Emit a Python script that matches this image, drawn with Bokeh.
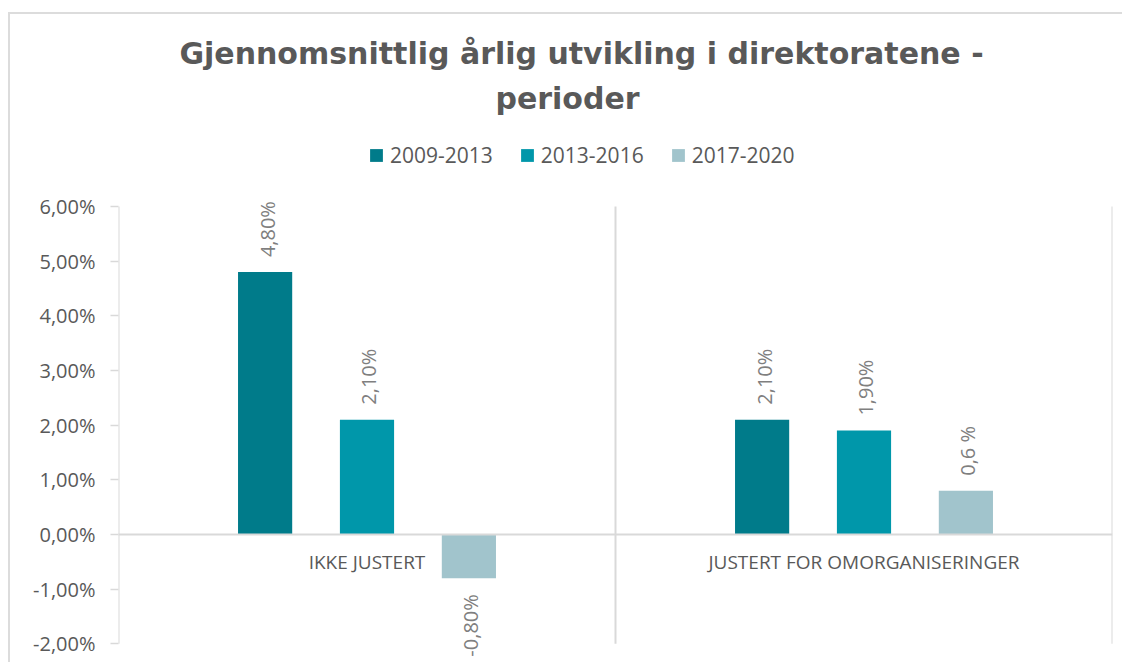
from bokeh.plotting import figure
from bokeh.models import (ColumnDataSource, FactorRange, Range1d, Span, LabelSet,
                          Legend, LegendItem, Label, FixedTicker)
from bokeh.transform import dodge
from bokeh.core.properties import value
from bokeh.embed import file_html
from bokeh.resources import INLINE

# ---------------- data ----------------
title_line1 = "Gjennomsnittlig årlig utvikling i direktoratene -"
title_line2 = "perioder"
categories = ["IKKE JUSTERT", "JUSTERT FOR OMORGANISERINGER"]
series_names = ["2009-2013", "2013-2016", "2017-2020"]
values_2009_2013 = [4.8, 2.1]
values_2013_2016 = [2.1, 1.9]
values_2017_2020 = [-0.8, 0.8]
labels_2009_2013 = ["4,80%", "2,10%"]
labels_2013_2016 = ["2,10%", "1,90%"]
labels_2017_2020 = ["-0,80%", "0,6 %"]
y_ticks = [-2, -1, 0, 1, 2, 3, 4, 5, 6]
y_tick_labels = ["-2,00%", "-1,00%", "0,00%", "1,00%", "2,00%", "3,00%",
                 "4,00%", "5,00%", "6,00%"]

# ---------------- style ----------------
colors = ["#007B8A", "#0097AA", "#A1C4CC"]
offsets = [-0.205, 0.0, 0.205]
bar_width = 0.109
FONT = "Open Sans"
TITLE_FONT = "DejaVu Sans"
GRID = "#D9D9D9"
TEXT = "#595959"
LABEL = "#7F7F7F"
PAD_TOP = 3.513      # room (in axis units) above the axis for title/legend
PAD_BOTTOM = 0.379   # room below the axis for the negative data label

all_values = [values_2009_2013, values_2013_2016, values_2017_2020]
all_labels = [labels_2009_2013, labels_2013_2016, labels_2017_2020]

p = figure(width=1114, height=650,
           x_range=FactorRange(*categories, range_padding=0, factor_padding=0),
           y_range=Range1d(y_ticks[0] - PAD_BOTTOM, y_ticks[-1] + PAD_TOP),
           x_axis_location=None, title=None,
           output_backend="svg", toolbar_location=None,
           min_border_left=108, min_border_right=12,
           min_border_top=0, min_border_bottom=0)
p.styles = {"border-top": "2px solid #DCDCDC", "border-left": "2px solid #DCDCDC",
            "margin-top": "12px", "margin-left": "8px"}
p.outline_line_color = None
p.xgrid.visible = False
p.ygrid.visible = False
p.background_fill_color = "white"
p.border_fill_color = "white"

# y axis (line drawn separately so it stops at the outer ticks)
ax = p.yaxis[0]
ax.ticker = FixedTicker(ticks=y_ticks)
ax.major_label_overrides = {t: l for t, l in zip(y_ticks, y_tick_labels)}
ax.axis_line_color = None
ax.major_tick_line_color = GRID
ax.major_tick_line_width = 1.5
ax.major_tick_out = 8
ax.major_tick_in = 0
ax.minor_tick_out = 0
ax.minor_tick_in = 0
ax.major_label_standoff = 15
ax.major_label_text_font = FONT
ax.major_label_text_font_size = "20px"
ax.major_label_text_color = TEXT

# axis line + category separators (vertical), zero line (horizontal)
n_sep = len(categories) + 1
sep = ColumnDataSource(dict(x=list(range(n_sep)), y0=[y_ticks[0]] * n_sep,
                            y1=[y_ticks[-1]] * n_sep))
p.segment(x0="x", x1="x", y0="y0", y1="y1", source=sep, line_color=GRID, line_width=2)
p.add_layout(Span(location=0, dimension="width", line_color=GRID, line_width=2))

# bars
renderers = []
for i, name in enumerate(series_names):
    src = ColumnDataSource(dict(cat=categories, val=all_values[i]))
    r = p.vbar(x=dodge("cat", offsets[i], range=p.x_range), top="val", bottom=0,
               width=bar_width, fill_color=colors[i], line_color=None, source=src)
    renderers.append(r)

    pos = [k for k, v in enumerate(all_values[i]) if v >= 0]
    neg = [k for k, v in enumerate(all_values[i]) if v < 0]
    for idxs, align, yoff in ((pos, "left", 15), (neg, "right", -16)):
        if not idxs:
            continue
        lsrc = ColumnDataSource(dict(cat=[categories[k] for k in idxs],
                                     val=[all_values[i][k] for k in idxs],
                                     lbl=[all_labels[i][k] for k in idxs]))
        p.add_layout(LabelSet(x=dodge("cat", offsets[i], range=p.x_range), y="val",
                              text="lbl", source=lsrc, angle=90, angle_units="deg",
                              text_align=align, text_baseline="middle",
                              y_offset=yoff, x_offset=2,
                              text_font=value(FONT), text_font_size="20px",
                              text_color=LABEL))

# category labels (sit just under the zero line)
csrc = ColumnDataSource(dict(cat=categories, zero=[0] * len(categories)))
p.text(x="cat", y="zero", text="cat", source=csrc, text_align="center",
       text_baseline="middle", y_offset=28, text_font=value(FONT),
       text_font_size="19px", text_color=TEXT)

# legend (positioned above the axis area)
legend = Legend(items=[LegendItem(label=n, renderers=[r]) for n, r in zip(series_names, renderers)],
                orientation="horizontal", location=(250, 495),
                glyph_width=16, glyph_height=16, label_standoff=6, spacing=26,
                padding=0, margin=0, border_line_color=None, background_fill_alpha=0,
                label_text_font=FONT, label_text_font_size="21px",
                label_text_color=TEXT)
p.add_layout(legend, "center")

# title lines
p.add_layout(Label(x=463, y=611, x_units="screen", y_units="screen", text=title_line1,
                   text_align="center", text_baseline="alphabetic",
                   text_font=TITLE_FONT, text_font_size="30px",
                   text_font_style="bold", text_color=TEXT))
p.add_layout(Label(x=449, y=566, x_units="screen", y_units="screen", text=title_line2,
                   text_align="center", text_baseline="alphabetic",
                   text_font=TITLE_FONT, text_font_size="30px",
                   text_font_style="bold", text_color=TEXT))

open("out.html", "w").write(file_html(p, INLINE))
